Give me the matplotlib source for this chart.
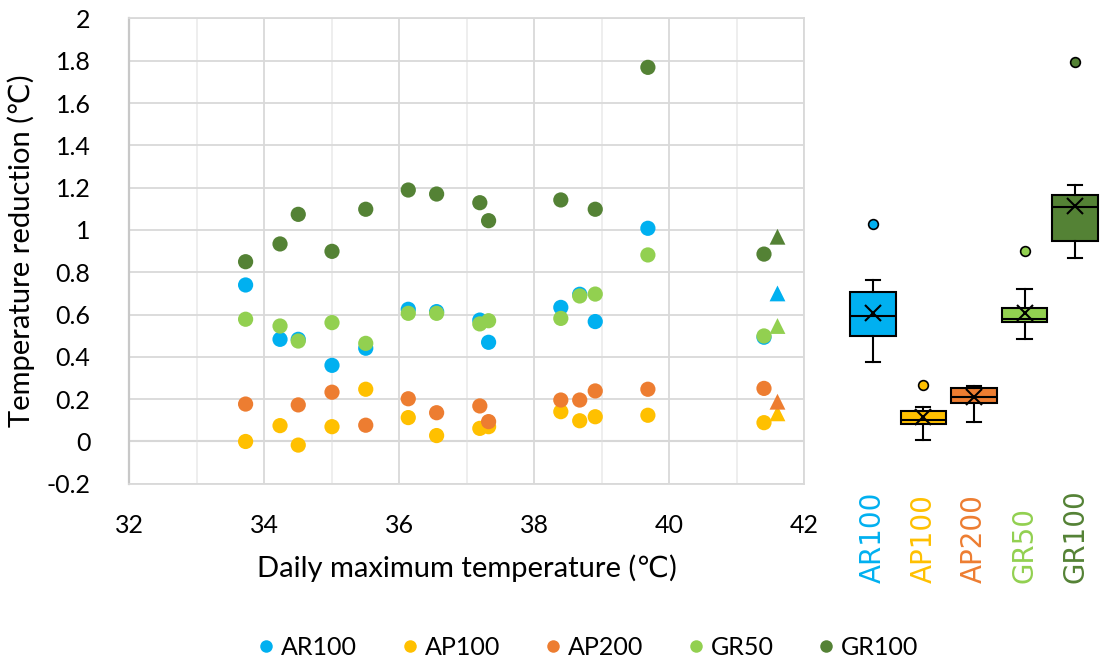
import matplotlib
matplotlib.use("Agg")
import matplotlib.pyplot as plt
from matplotlib.lines import Line2D
from matplotlib.ticker import MultipleLocator

plt.rcParams['font.family'] = ['Lato', 'DejaVu Sans']

# --- Daten ---
names = ["AR100", "AP100", "AP200", "GR50", "GR100"]
colors = ["#00B0F0", "#FFC000", "#ED7D31", "#92D050", "#548235"]

tmax_all = [33.72, 34.23, 34.50, 35.0, 35.5, 36.13, 36.55, 37.19, 37.32, 38.39, 38.67, 38.90, 39.68, 41.40]
tmax_ap200 = [33.72, 34.50, 35.0, 35.5, 36.13, 36.55, 37.19, 37.32, 38.39, 38.67, 38.90, 39.68, 41.40]
tmax_gr100 = [33.72, 34.23, 34.50, 35.0, 35.5, 36.13, 36.55, 37.19, 37.32, 38.39, 38.90, 39.68, 41.40]

ar100 = [0.74, 0.483, 0.483, 0.36, 0.441, 0.625, 0.614, 0.574, 0.469, 0.634, 0.696, 0.567, 1.008, 0.493]
ap100 = [0.0, 0.075, -0.017, 0.07, 0.247, 0.113, 0.028, 0.062, 0.07, 0.141, 0.098, 0.117, 0.124, 0.089]
ap200 = [0.177, 0.173, 0.233, 0.077, 0.202, 0.136, 0.168, 0.094, 0.196, 0.196, 0.239, 0.247, 0.251]
gr50 = [0.578, 0.546, 0.475, 0.562, 0.464, 0.606, 0.606, 0.556, 0.571, 0.582, 0.688, 0.697, 0.882, 0.499]
gr100 = [0.85, 0.934, 1.074, 0.899, 1.098, 1.189, 1.17, 1.129, 1.044, 1.142, 1.098, 1.769, 0.886]

# Dreiecke (eigener Tag)
tmax_tri = 41.6
tri_values = [0.70, 0.133, 0.188, 0.546, 0.968]

# Boxplot-Kennwerte
box_whislo = [0.376, 0.007, 0.091, 0.485, 0.868]
box_q1 = [0.500, 0.083, 0.180, 0.564, 0.949]
box_med = [0.593, 0.102, 0.212, 0.581, 1.107]
box_q3 = [0.708, 0.146, 0.254, 0.630, 1.167]
box_whishi = [0.764, 0.165, 0.264, 0.720, 1.211]
box_mean = [0.609, 0.117, 0.210, 0.609, 1.113]
box_fliers = [[1.030], [0.267], [], [0.899], [1.794]]

xs = [tmax_all, tmax_all, tmax_ap200, tmax_all, tmax_gr100]
ys = [ar100, ap100, ap200, gr50, gr100]

fig = plt.figure(figsize=(11.04, 6.65), dpi=100)
ax = fig.add_axes([0.1173, 0.2725, 0.6114, 0.6997])
axb = fig.add_axes([0.7676, 0.2725, 0.2292, 0.6997])

# === Streudiagramm ===
for name, c, x, y in zip(names, colors, xs, ys):
    ax.scatter(x, y, s=120, color=c, edgecolors='none', zorder=3, label=name)
for c, v in zip(colors, tri_values):
    ax.scatter([tmax_tri], [v], s=130, marker='^', color=c, edgecolors='none', zorder=3)

ax.set_xlim(32, 42)
ax.set_ylim(-0.2, 2)
ax.xaxis.set_major_locator(MultipleLocator(2))
ax.xaxis.set_minor_locator(MultipleLocator(1))
ax.set_yticks([-0.2, 0, 0.2, 0.4, 0.6, 0.8, 1, 1.2, 1.4, 1.6, 1.8, 2])
ax.set_yticklabels(["-0.2", "0", "0.2", "0.4", "0.6", "0.8", "1", "1.2", "1.4", "1.6", "1.8", "2"])
ax.grid(True, which='major', color='#D9D9D9', linewidth=1.3, zorder=0)
ax.grid(True, which='minor', axis='x', color='#EDEDED', linewidth=1.3, zorder=0)
ax.axhline(0, color='#CCCCCC', linewidth=1.5, zorder=1)
for sp in ax.spines.values():
    sp.set_color('#D9D9D9')
    sp.set_linewidth(1.3)
ax.spines['left'].set_color('#C8C8C8')
ax.spines['left'].set_linewidth(1.6)
ax.tick_params(which='both', length=0, labelsize=18, colors='black')
ax.tick_params(axis='x', pad=22)
ax.tick_params(axis='y', pad=28)
ax.set_xlabel("Daily maximum temperature (℃)", fontsize=21, labelpad=12)
ax.set_ylabel("Temperature reduction (℃)", fontsize=21, labelpad=8)

# === Boxplots ===
stats = []
for i in range(len(names)):
    stats.append({"whislo": box_whislo[i], "q1": box_q1[i], "med": box_med[i],
                  "q3": box_q3[i], "whishi": box_whishi[i], "mean": box_mean[i],
                  "fliers": box_fliers[i]})
pos = [1, 2, 3, 4, 5]
bp = axb.bxp(stats, positions=pos, widths=0.9, patch_artist=True, showmeans=True,
             boxprops=dict(edgecolor='black', linewidth=1.5),
             medianprops=dict(color='black', linewidth=1.5),
             whiskerprops=dict(color='black', linewidth=1.5),
             capprops=dict(color='black', linewidth=1.5),
             meanprops=dict(marker='x', markeredgecolor='black', markersize=12, markeredgewidth=1.5),
             capwidths=0.28)
for patch, c in zip(bp['boxes'], colors):
    patch.set_facecolor(c)
for fl, c in zip(bp['fliers'], colors):
    fl.set(marker='o', markerfacecolor=c, markeredgecolor='black', markersize=7, markeredgewidth=1.2)

axb.set_xlim(0.5, 5.5)
axb.set_ylim(-0.2, 2)
axb.axis('off')
for p, name, c in zip(pos, names, colors):
    axb.text(p, -0.213, name, transform=axb.get_xaxis_transform(), rotation=90,
             ha='center', va='bottom', color=c, fontsize=20, fontfamily=['DejaVu Sans'])

# === Legende ===
handles = [Line2D([], [], linestyle='none', marker='o', markersize=9, color=c,
                  markeredgecolor='none') for c in colors]
fig.legend(handles, names, loc='center', bbox_to_anchor=(0.531, 0.026), ncol=5,
           frameon=False, fontsize=18, handletextpad=0.1, columnspacing=1.6,
           handlelength=1.0)

fig.savefig("out.png", dpi=100)
